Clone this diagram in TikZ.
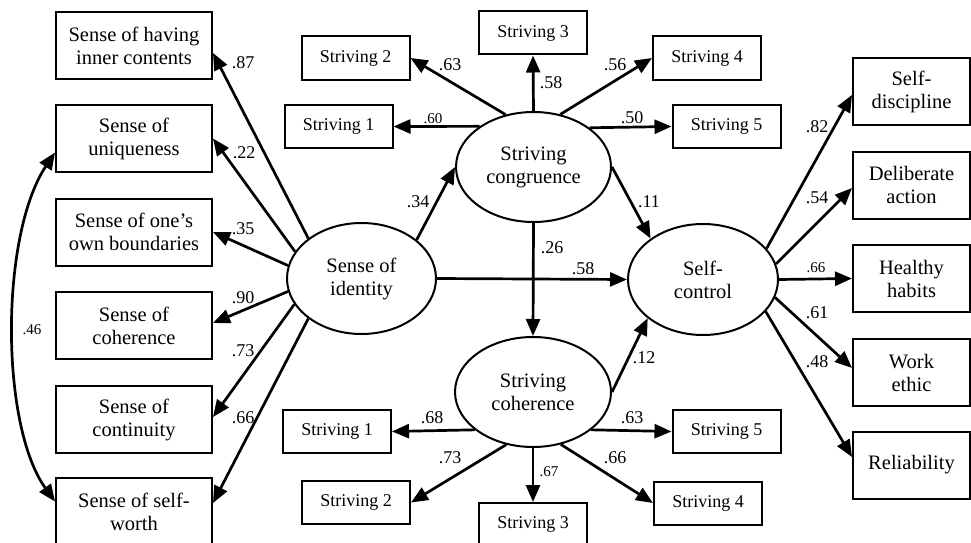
\documentclass[tikz,border=0pt]{standalone}
\usepackage{fontspec}
\setmainfont{Liberation Serif}
\usetikzlibrary{arrows.meta,calc,shapes.geometric}
\begin{document}
\begin{tikzpicture}[x=1pt,y=-1pt,
 box/.style={draw,line width=2pt,minimum width=156pt,minimum height=67pt,inner sep=0pt,align=center,font=\fontsize{20.5}{23}\selectfont},
 rbox/.style={box,minimum width=117pt},
 sbox/.style={draw,line width=2pt,minimum width=108pt,minimum height=43pt,inner sep=0pt,font=\fontsize{18}{21}\selectfont},
 lat/.style={draw,ellipse,line width=2pt,minimum width=152pt,minimum height=110pt,inner sep=0pt,align=center,font=\fontsize{20.5}{23}\selectfont},
 arr/.style={-{Triangle[length=17pt,width=14pt]},line width=2.7pt},
 darr/.style={{Triangle[length=17pt,width=14pt]}-{Triangle[length=17pt,width=14pt]},line width=2.7pt},
 lab/.style={inner sep=0pt,font=\fontsize{18}{20}\selectfont},
 slab/.style={inner sep=0pt,font=\fontsize{15}{17}\selectfont}]
\useasboundingbox (0,0) rectangle (971,543);
% left indicators
\node[box] (b1) at (134,45.5) {Sense of having\\inner contents};
\node[box] (b2) at (134,138.5) {Sense of\\uniqueness};
\node[box] (b3) at (134,232) {Sense of one’s\\own boundaries};
\node[box] (b4) at (134,325.5) {Sense of\\coherence};
\node[box] (b5) at (134,419.5) {Sense of\\continuity};
\node[box] (b6) at (134,511.5) {Sense of self-\\worth};
% latent
\node[lat,minimum width=149pt,minimum height=111pt] (id) at (361.5,278.5) {Sense of\\identity};
\node[lat,minimum width=155pt] (cg) at (533.5,167) {Striving\\congruence};
\node[lat,minimum width=156pt] (ch) at (533,392) {Striving\\coherence};
\node[lat,minimum width=150pt,minimum height=111pt] (sc) at (703,279.5) {Self-\\control};
% strivings top
\node[sbox] (t1) at (338.5,126.5) {Striving 1};
\node[sbox] (t2) at (355.5,58) {Striving 2};
\node[sbox] (t3) at (533,33) {Striving 3};
\node[sbox] (t4) at (707,58) {Striving 4};
\node[sbox] (t5) at (726.5,126.5) {Striving 5};
% strivings bottom
\node[sbox] (u1) at (337,431.5) {Striving 1};
\node[sbox] (u2) at (356,502.5) {Striving 2};
\node[sbox] (u3) at (533,524.5) {Striving 3};
\node[sbox] (u4) at (708,503) {Striving 4};
\node[sbox] (u5) at (726.5,431.5) {Striving 5};
% right indicators
\node[rbox] (r1) at (911.5,91.5) {Self-\\discipline};
\node[rbox] (r2) at (911.5,185) {Deliberate\\action};
\node[rbox] (r3) at (911.5,278.5) {Healthy\\habits};
\node[rbox] (r4) at (911.5,372.5) {Work\\ethic};
\node[rbox] (r5) at (911.5,465) {Reliability};
% arrows identity -> indicators
\draw[arr] (id.143) -- ($(b1.east)+(0,7.5)$);
\draw[arr] (id.158) -- (b2.east);
\draw[arr] (id.170) -- (b3.east);
\draw[arr] (id.190) -- ($(b4.east)+(0,-2.5)$);
\draw[arr] (id.201) -- ($(b5.east)+(0,-2.5)$);
\draw[arr] (id.217) -- ($(b6.east)+(0,-8.5)$);
% structural
\draw[arr] (id.35) -- (cg.west);
\draw[arr] (id.east) -- (sc.west);
\draw[arr] (cg.south) -- (ch.north);
\draw[arr] (cg.east) -- (sc.142.5);
\draw[arr] (ch.east) -- (sc.215);
% congruence strivings
\draw[arr] (cg.143.7) -- (t1.east);
\draw[arr] (cg.118.7) -- (t2.east);
\draw[arr] (cg.north) -- (t3.south);
\draw[arr] (cg.63) -- (t4.west);
\draw[arr] (cg.35.8) -- (t5.west);
% coherence strivings
\draw[arr] (ch.213) -- (u1.east);
\draw[arr] (ch.243) -- (u2.east);
\draw[arr] (ch.south) -- (u3.north);
\draw[arr] (ch.298.7) -- (u4.west);
\draw[arr] (ch.327) -- (u5.west);
% self-control indicators
\draw[arr] (sc.26.6) -- ($(r1.west)+(0,3.5)$);
\draw[arr] (sc.12.6) -- ($(r2.west)+(0,3)$);
\draw[arr] (sc.east) -- (r3.west);
\draw[arr] (sc.346.7) -- ($(r4.west)+(0,-4.5)$);
\draw[arr] (sc.333.4) -- ($(r5.west)+(0,-8)$);
% correlation
\draw[darr] ($(b2.west)+(0,14)$) .. controls (0,235) and (0,425) .. ($(b6.west)+(0,-10)$);
% labels
\node[lab] (l1) at (243,63) {.87};
\node[lab] (l2) at (244,153) {.22};
\node[lab] (l3) at (243,229) {.35};
\node[lab] (l4) at (243,298) {.90};
\node[lab] (l5) at (243,351) {.73};
\node[lab] (l6) at (243,418) {.66};
\node[slab] (l7) at (32,330) {.46};
\node[lab] (l8) at (418,202) {.34};
\node[slab] (l9) at (433,119) {.60};
\node[lab] (l10) at (450,65) {.63};
\node[lab] (l11) at (551,83) {.58};
\node[lab] (l12) at (615,65) {.56};
\node[lab] (l13) at (632,118) {.50};
\node[lab] (l14) at (649,202) {.11};
\node[lab] (l15) at (552,248) {.26};
\node[lab] (l16) at (583,269) {.58};
\node[lab] (l17) at (644,358) {.12};
\node[lab] (l18) at (432,418) {.68};
\node[lab] (l19) at (450,458) {.73};
\node[slab] (l20) at (549,472) {.67};
\node[lab] (l21) at (615,458) {.66};
\node[lab] (l22) at (632,418) {.63};
\node[lab] (l23) at (817,127) {.82};
\node[lab] (l24) at (817,198) {.54};
\node[slab] (l25) at (816,268) {.66};
\node[lab] (l26) at (817,313) {.61};
\node[lab] (l27) at (817,362) {.48};
\end{tikzpicture}
\end{document}
